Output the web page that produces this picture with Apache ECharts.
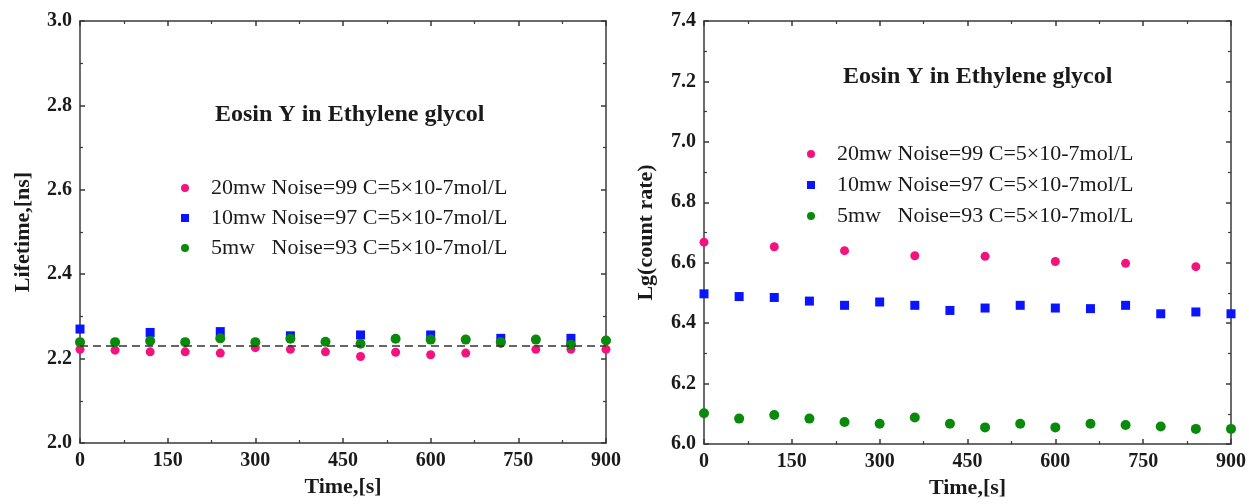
<!DOCTYPE html>
<html>
<head>
<meta charset="utf-8">
<script src="https://cdn.jsdelivr.net/npm/echarts@6/dist/echarts.min.js"></script>
<style>
html,body{margin:0;padding:0;background:#fff;}
#c{width:1249px;height:504px;}
</style>
</head>
<body>
<div id="c"></div>
<script>
// ---- data ----
const titleText = 'Eosin Y in Ethylene glycol';
const seriesNames = ['20mw Noise=99 C=5\u00d710-7mol/L', '10mw Noise=97 C=5\u00d710-7mol/L', '5mw   Noise=93 C=5\u00d710-7mol/L'];
const timeAll = [0, 60, 120, 180, 240, 300, 360, 420, 480, 540, 600, 660, 720, 780, 840, 900];
const time120 = [0, 120, 240, 360, 480, 600, 720, 840];

// left panel: lifetime (ns)
const life20 = [2.222, 2.220, 2.216, 2.216, 2.213, 2.226, 2.222, 2.216, 2.205, 2.215, 2.209, 2.213, 2.236, 2.222, 2.222, 2.222];
const life10 = [2.270, 2.262, 2.264, 2.254, 2.256, 2.256, 2.248, 2.248];
const life5 = [2.239, 2.239, 2.242, 2.239, 2.248, 2.239, 2.247, 2.240, 2.235, 2.247, 2.245, 2.245, 2.239, 2.245, 2.233, 2.243];
const lifeMean = 2.23;

// right panel: lg(count rate)
const rate20 = [6.668, 6.653, 6.640, 6.623, 6.621, 6.604, 6.598, 6.587];
const rate10 = [6.497, 6.488, 6.485, 6.473, 6.459, 6.470, 6.459, 6.442, 6.450, 6.459, 6.450, 6.448, 6.459, 6.431, 6.437, 6.431];
const rate5 = [6.102, 6.084, 6.096, 6.084, 6.073, 6.067, 6.088, 6.067, 6.055, 6.067, 6.055, 6.067, 6.063, 6.058, 6.050, 6.050];

// ---- styling ----
const FONT = 'Liberation Serif';
const colors = ['#f5127e', '#0a14ff', '#0a8a0a'];
const symbols = ['circle', 'rect', 'circle'];
const sizes = [9, 9, 10];
const axisColor = '#3a3a3a';

function pair(xs, ys) { return xs.map((x, i) => [x, ys[i]]); }

function xAxes(gridIndex) {
  const base = {
    type: 'value', gridIndex: gridIndex, min: 0, max: 900, interval: 150,
    axisLine: { show: true, onZero: false, lineStyle: { color: axisColor, width: 1.5 } },
    axisTick: { show: true, inside: true, length: 5, lineStyle: { color: axisColor, width: 1.5 } },
    minorTick: { show: true, splitNumber: 2, length: 3, lineStyle: { color: axisColor, width: 1.2 } },
    splitLine: { show: false }
  };
  return [
    Object.assign({}, base, {
      position: 'bottom',
      name: 'Time,[s]', nameLocation: 'middle', nameGap: 33,
      nameTextStyle: { fontFamily: FONT, fontWeight: 'bold', fontSize: 22, color: '#1a1a1a' },
      axisLabel: { show: true, margin: 8, fontFamily: FONT, fontWeight: 'bold', fontSize: 20, color: '#1a1a1a' }
    }),
    Object.assign({}, base, { position: 'top', axisLabel: { show: false } })
  ];
}

function yAxes(gridIndex, min, max, name, gap) {
  const base = {
    type: 'value', gridIndex: gridIndex, min: min, max: max, interval: 0.2,
    axisLine: { show: true, onZero: false, lineStyle: { color: axisColor, width: 1.5 } },
    axisTick: { show: true, inside: true, length: 5, lineStyle: { color: axisColor, width: 1.5 } },
    minorTick: { show: true, splitNumber: 2, length: 3, lineStyle: { color: axisColor, width: 1.2 } },
    splitLine: { show: false }
  };
  return [
    Object.assign({}, base, {
      position: 'left',
      name: name, nameLocation: 'middle', nameGap: gap,
      nameTextStyle: { fontFamily: FONT, fontWeight: 'bold', fontSize: 22, color: '#1a1a1a' },
      axisLabel: { show: true, margin: 8, fontFamily: FONT, fontWeight: 'bold', fontSize: 20, color: '#1a1a1a',
        formatter: v => v.toFixed(1) }
    }),
    Object.assign({}, base, { position: 'right', axisLabel: { show: false } })
  ];
}

function scatter(i, xIdx, yIdx, data) {
  return {
    type: 'scatter', name: seriesNames[i], xAxisIndex: xIdx, yAxisIndex: yIdx,
    data: data, symbol: symbols[i], symbolSize: sizes[i],
    itemStyle: { color: colors[i], opacity: 1 },
    clip: true, silent: true, z: 2 + i
  };
}

const legendBase = {
  orient: 'vertical',
  data: seriesNames.map((n, i) => ({ name: n, icon: symbols[i] })),
  itemWidth: 8, itemHeight: 8, itemGap: 8,
  selectedMode: false,
  formatter: n => '{g|}' + n,
  textStyle: { fontFamily: FONT, fontSize: 22, color: '#1a1a1a', lineHeight: 22,
    rich: { g: { width: 17 } } }
};

const chart = echarts.init(document.getElementById('c'), null, { renderer: 'canvas' });
const dashed = {
  silent: true, symbol: ['none', 'none'], label: { show: false },
  lineStyle: { type: [8, 5], color: '#333', width: 1.5 },
  data: [{ yAxis: lifeMean }]
};

const s0 = scatter(0, 0, 0, pair(timeAll, life20));
s0.markLine = dashed;

chart.setOption({
  animation: false,
  backgroundColor: '#fff',
  title: [
    { text: titleText, left: 210, top: 98, textStyle: { fontFamily: FONT, fontWeight: 'bold', fontSize: 24, color: '#1a1a1a' } },
    { text: titleText, left: 838, top: 60, textStyle: { fontFamily: FONT, fontWeight: 'bold', fontSize: 24, color: '#1a1a1a' } }
  ],
  legend: [
    Object.assign({}, legendBase, { left: 176, top: 172 }),
    Object.assign({}, legendBase, { left: 802, top: 138, itemGap: 9 })
  ],
  grid: [
    { left: 80, right: 643, top: 21, bottom: 61, containLabel: false },
    { left: 704, right: 17, top: 21, bottom: 58, containLabel: false }
  ],
  xAxis: xAxes(0).concat(xAxes(1)),
  yAxis: yAxes(0, 2.0, 3.0, 'Lifetime,[ns]', 46).concat(yAxes(1, 6.0, 7.4, 'Lg(count rate)', 47)),
  series: [
    s0,
    scatter(1, 0, 0, pair(time120, life10)),
    scatter(2, 0, 0, pair(timeAll, life5)),
    scatter(0, 2, 2, pair(time120, rate20)),
    scatter(1, 2, 2, pair(timeAll, rate10)),
    scatter(2, 2, 2, pair(timeAll, rate5))
  ]
});
</script>
</body>
</html>
